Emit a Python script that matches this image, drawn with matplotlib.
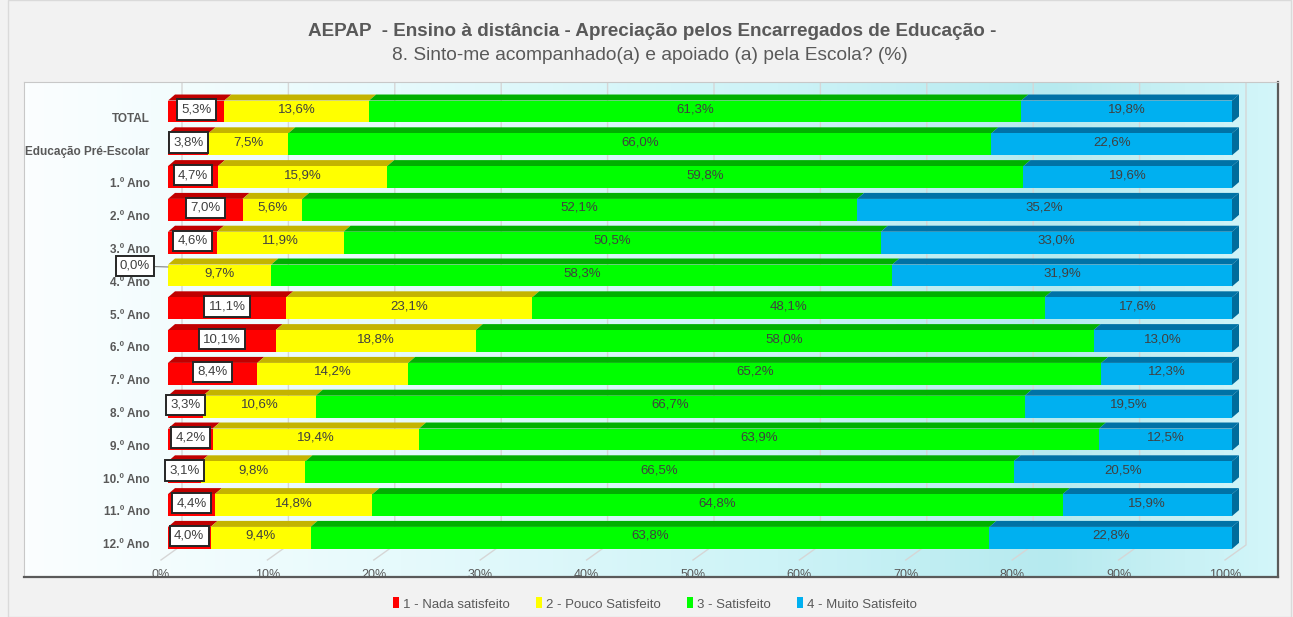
import matplotlib
matplotlib.use('Agg')
import matplotlib.pyplot as plt
import matplotlib.patheffects as pe
import numpy as np
from matplotlib.patches import Polygon, Rectangle
from matplotlib.colors import LinearSegmentedColormap

#---------------------------------------------------------------------------------------------------
# Data
#---------------------------------------------------------------------------------------------------

categories = ['TOTAL', 'Educação Pré-Escolar', '1.º Ano', '2.º Ano', '3.º Ano', '4.º Ano',
              '5.º Ano', '6.º Ano', '7.º Ano', '8.º Ano', '9.º Ano', '10.º Ano', '11.º Ano',
              '12.º Ano']
nada = [5.3, 3.8, 4.7, 7.0, 4.6, 0.0, 11.1, 10.1, 8.4, 3.3, 4.2, 3.1, 4.4, 4.0]
pouco = [13.6, 7.5, 15.9, 5.6, 11.9, 9.7, 23.1, 18.8, 14.2, 10.6, 19.4, 9.8, 14.8, 9.4]
satisfeito = [61.3, 66.0, 59.8, 52.1, 50.5, 58.3, 48.1, 58.0, 65.2, 66.7, 63.9, 66.5, 64.8, 63.8]
muito = [19.8, 22.6, 19.6, 35.2, 33.0, 31.9, 17.6, 13.0, 12.3, 19.5, 12.5, 20.5, 15.9, 22.8]
series_names = ['1 - Nada satisfeito', '2 - Pouco Satisfeito', '3 - Satisfeito',
                '4 - Muito Satisfeito']
xticks = np.arange(0, 101, 10)

title1 = 'AEPAP  - Ensino à distância - Apreciação pelos Encarregados de Educação -'
title2 = '8. Sinto-me acompanhado(a) e apoiado (a) pela Escola? (%)'

#---------------------------------------------------------------------------------------------------
# Style
#---------------------------------------------------------------------------------------------------

plt.rcParams['font.family'] = ['Liberation Sans', 'DejaVu Sans']

front_c = ['#ff0000', '#ffff00', '#00ff00', '#00b0f0']
top_c = ['#c00000', '#c4b400', '#00b000', '#0072a6']
side_c = '#006c9c'
txt_c = '#404040'
lab_c = '#595959'

W, H = 1293, 617
fig = plt.figure(figsize=(W / 100, H / 100), dpi=100)
fig.patch.set_facecolor('#f2f2f2')
fig.add_artist(Rectangle((8 / W, 0), (W - 10) / W, 1, transform=fig.transFigure,
                         fc='none', ec='#dadada', lw=1))

# plot area in pixels
px0, px1, py0, py1 = 24, 1278, 82, 577
ax = fig.add_axes([px0 / W, 1 - py1 / H, (px1 - px0) / W, (py1 - py0) / H])

xscale = 10.64      # px per percent
x_zero = 168        # px of 0 %
ypitch = 32.8
y_first = 111.5
ax.set_xlim(-(x_zero - px0) / xscale, 100 + (px1 - (x_zero + 100 * xscale)) / xscale)
ax.set_ylim((py1 - y_first) / ypitch, (py0 - y_first) / ypitch)
ax.set_xticks([])
ax.set_yticks([])
for s in ['left', 'top']:
    ax.spines[s].set_color('#c8c8c8')
for s in ['right', 'bottom']:
    ax.spines[s].set_color('#5a5a5a')
    ax.spines[s].set_linewidth(1.6)

# background gradient
cmap = LinearSegmentedColormap.from_list('bg', [(0, '#fbfeff'), (0.3, '#e6fafc'),
                                                (0.6, '#cdf3f7'), (0.82, '#b6eaef'),
                                                (0.9, '#c4eff3'), (1.0, '#d3f6fa')])
ax.imshow(np.linspace(0, 1, 256).reshape(1, -1), cmap=cmap, aspect='auto',
          extent=[0, 1, 0, 1], transform=ax.transAxes, zorder=0)

# 3d geometry
h = 0.67
dx, dy = 7 / xscale, 6 / ypitch
back = 14 / xscale
floor_back = (545 - y_first) / ypitch
floor_front = (560 - y_first) / ypitch
front_off = -7 / xscale
ytop = ax.get_ylim()[1]

for t in xticks:
    ax.plot([t + back, t + back, t + front_off], [ytop, floor_back, floor_front],
            color='#d6d6d6', lw=1, zorder=1)
    ax.text(t + front_off, (575 - y_first) / ypitch, '%d%%' % t, ha='center', va='center',
            fontsize=9, color=lab_c, zorder=5)

vals = np.array([nada, pouco, satisfeito, muito])
shares = vals / vals.sum(axis=0) * 100
y = np.arange(len(categories))
left = np.zeros(len(categories))
box = dict(boxstyle='square,pad=0.32', fc='white', ec='#262626', lw=1.4)
handles = []
for k in range(4):
    bars = ax.barh(y, shares[k], left=left, height=h, color=front_c[k], lw=0, zorder=3,
                   label=series_names[k])
    handles.append(bars)
    for i in range(len(y)):
        if shares[k][i] <= 0:
            continue
        x0, x1 = left[i], left[i] + shares[k][i]
        yt = y[i] - h / 2
        ax.add_patch(Polygon([(x0, yt), (x1, yt), (x1 + dx, yt - dy), (x0 + dx, yt - dy)],
                             closed=True, fc=top_c[k], ec='none', zorder=2.9))
        xc = (x0 + x1) / 2
        lbl = ('%.1f%%' % vals[k][i]).replace('.', ',')
        if k == 0:
            ax.text(xc, y[i] - 0.06, lbl, ha='center', va='center', fontsize=9.5,
                    color=txt_c, zorder=6, bbox=box)
        else:
            ax.text(xc, y[i] - 0.06, lbl, ha='center', va='center', fontsize=9.5,
                    color=txt_c, zorder=6)
    left += shares[k]

# zero-value labels with leader line
for i in range(len(y)):
    if shares[0][i] <= 0:
        ax.annotate(('%.1f%%' % vals[0][i]).replace('.', ','), xy=(0, y[i] - 0.26),
                    xytext=(-33, 1), textcoords='offset pixels', ha='center', va='center',
                    fontsize=9.5, color=txt_c, zorder=6, bbox=box,
                    arrowprops=dict(arrowstyle='-', color='#808080', lw=0.8,
                                    shrinkA=0, shrinkB=0))

# right side faces
for i in range(len(y)):
    yt, yb = y[i] - h / 2, y[i] + h / 2
    ax.add_patch(Polygon([(100, yt), (100 + dx, yt - dy), (100 + dx, yb - dy), (100, yb)],
                         closed=True, fc=side_c, ec='none', zorder=2.9))

# category labels
for i, c in enumerate(categories):
    ax.text(-1.7, y[i] + 0.22, c, ha='right', va='center', fontsize=8.5, color=lab_c,
            zorder=5, fontweight='bold')

fig.text(652 / W, 1 - 32 / H, title1, ha='center', va='center', fontsize=13.6,
         fontweight='bold', color=lab_c)
fig.text(650 / W, 1 - 55 / H, title2, ha='center', va='center', fontsize=13.8, color=lab_c)

fig.legend(handles=handles, loc='center', bbox_to_anchor=(655 / W, 1 - 604 / H), ncol=4,
           frameon=False, fontsize=9.5, handlelength=0.45, handleheight=0.9,
           handletextpad=0.3, columnspacing=2.0, labelcolor=lab_c)

fig.savefig('out.png', dpi=100, facecolor=fig.get_facecolor())
